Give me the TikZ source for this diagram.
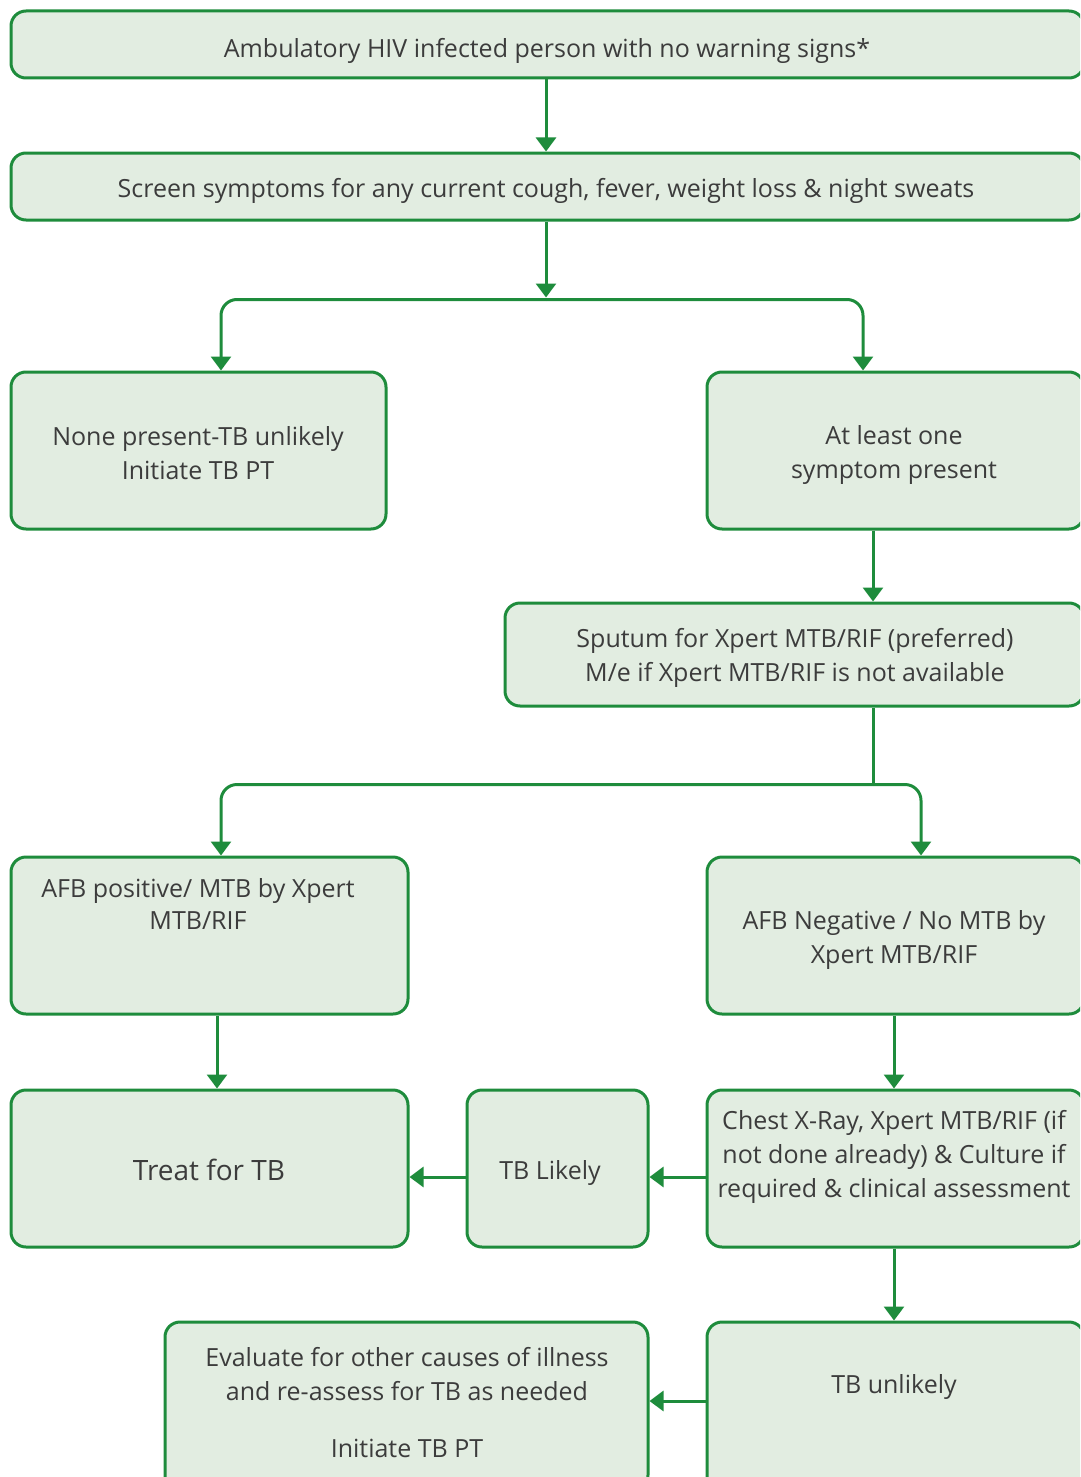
\documentclass[tikz,border=0pt]{standalone}
\usepackage{fontspec}
\setmainfont{Open Sans}
\usetikzlibrary{arrows.meta,calc}
\definecolor{boxline}{HTML}{1E8C3C}
\definecolor{boxfill}{HTML}{E2EDE1}
\definecolor{txt}{HTML}{3C3C3C}
\begin{document}
\begin{tikzpicture}[x=1pt,y=-1pt,
  flowbox/.style={draw=boxline, fill=boxfill, line width=3pt, rounded corners=15pt,
    inner sep=0pt},
  lbl/.style={text=txt, align=center, inner sep=0pt,
    font=\fontsize{25}{34}\selectfont},
  arr/.style={draw=boxline, line width=3pt, -{Triangle[width=20pt,length=14pt]}},
  link/.style={draw=boxline, line width=3pt},
]
\path[use as bounding box] (0,0) rectangle (1080,1477);
\clip (0,0) rectangle (1080,1477);

% boxes
\node[flowbox, minimum width=1073pt, minimum height=67pt]  (b1)  at (547.5,44.5) {};
\node[flowbox, minimum width=1073pt, minimum height=67pt]  (b2)  at (547.5,186.5) {};
\node[flowbox, minimum width=375pt, minimum height=157pt]  (b3)  at (198.5,450.5) {};
\node[flowbox, minimum width=377pt, minimum height=157pt]  (b4)  at (895.5,450.5) {};
\node[flowbox, minimum width=579pt, minimum height=103pt]  (b5)  at (794.5,654.5) {};
\node[flowbox, minimum width=397pt, minimum height=157pt]  (b6)  at (209.5,935.5) {};
\node[flowbox, minimum width=377pt, minimum height=157pt]  (b7)  at (895.5,935.5) {};
\node[flowbox, minimum width=397pt, minimum height=157pt]  (b8)  at (209.5,1168.5) {};
\node[flowbox, minimum width=181pt, minimum height=157pt]  (b9)  at (557.5,1168.5) {};
\node[flowbox, minimum width=377pt, minimum height=157pt]  (b10) at (895.5,1168.5) {};
\node[flowbox, minimum width=483pt, minimum height=168pt]  (b11) at (406.5,1406) {};
\node[flowbox, minimum width=377pt, minimum height=168pt]  (b12) at (895.5,1406) {};

% box texts
\node[lbl] (t1)  at (547,50.5) {Ambulatory HIV infected person with no warning signs*};
\node[lbl] (t2)  at (546,190.5) {Screen symptoms for any current cough, fever, weight loss \& night sweats};
\node[lbl] (t3)  at (198,453.5) {None present-TB unlikely\\Initiate TB PT};
\node[lbl] (t4)  at (894,455.5) {At least one\\symptom present};
\node[lbl] (t5)  at (795,657.5) {Sputum for Xpert MTB/RIF (preferred)\\M/e if Xpert MTB/RIF is not available};
\node[lbl, font=\fontsize{25}{32}\selectfont] (t6) at (198,903.5) {AFB positive/ MTB by Xpert\\MTB/RIF};
\node[lbl] (t7)  at (894,939.5) {AFB Negative / No MTB by\\Xpert MTB/RIF};
\node[lbl, font=\fontsize{28}{34}\selectfont] (t8) at (209,1169.5) {Treat for TB};
\node[lbl] (t9)  at (550,1172.5) {TB Likely};
\node[lbl] (t10) at (894,1157) {Chest X-Ray, Xpert MTB/RIF (if\\not done already) \& Culture if\\required \& clinical assessment};
\node[lbl] (t11) at (407,1403) {Evaluate for other causes of illness\\and re-assess for TB as needed\\[23pt]Initiate TB PT};
\node[lbl] (t12) at (894,1386.5) {TB unlikely};

% branching points
\coordinate (s1) at ($(b2.south)+(-1.5,78)$);
\coordinate (s2) at ($(b5.south)+(78.5,77)$);

% connectors
\draw[arr] (b1.south -| s1) -- (b2.north -| s1);
\draw[arr] (b2.south -| s1) -- ($(s1)+(0,-2)$);
\draw[arr, rounded corners=16pt] (s1) -| ($(b3.north)+(22.5,0)$);
\draw[arr, rounded corners=16pt] (s1) -| ($(b4.north)+(-32.5,0)$);
\draw[arr] ($(b4.south)+(-22.5,0)$) -- ($(b5.north)+(78.5,0)$);
\draw[link] (b5.south -| s2) -- (s2);
\draw[arr, rounded corners=16pt] (s2) -| ($(b6.north)+(11.5,0)$);
\draw[arr, rounded corners=16pt] (s2) -| ($(b7.north)+(25.5,0)$);
\draw[arr] ($(b6.south)+(7.5,0)$) -- ($(b8.north)+(7.5,0)$);
\draw[arr] ($(b7.south)+(-1.5,0)$) -- ($(b10.north)+(-1.5,0)$);
\draw[arr] ($(b10.west)+(0,8.5)$) -- ($(b9.east)+(0,8.5)$);
\draw[arr] ($(b9.west)+(0,8.5)$) -- ($(b8.east)+(0,8.5)$);
\draw[arr] ($(b10.south)+(-1.5,0)$) -- ($(b12.north)+(-1.5,0)$);
\draw[arr] ($(b12.west)+(0,-5)$) -- ($(b11.east)+(0,-5)$);
\end{tikzpicture}
\end{document}
